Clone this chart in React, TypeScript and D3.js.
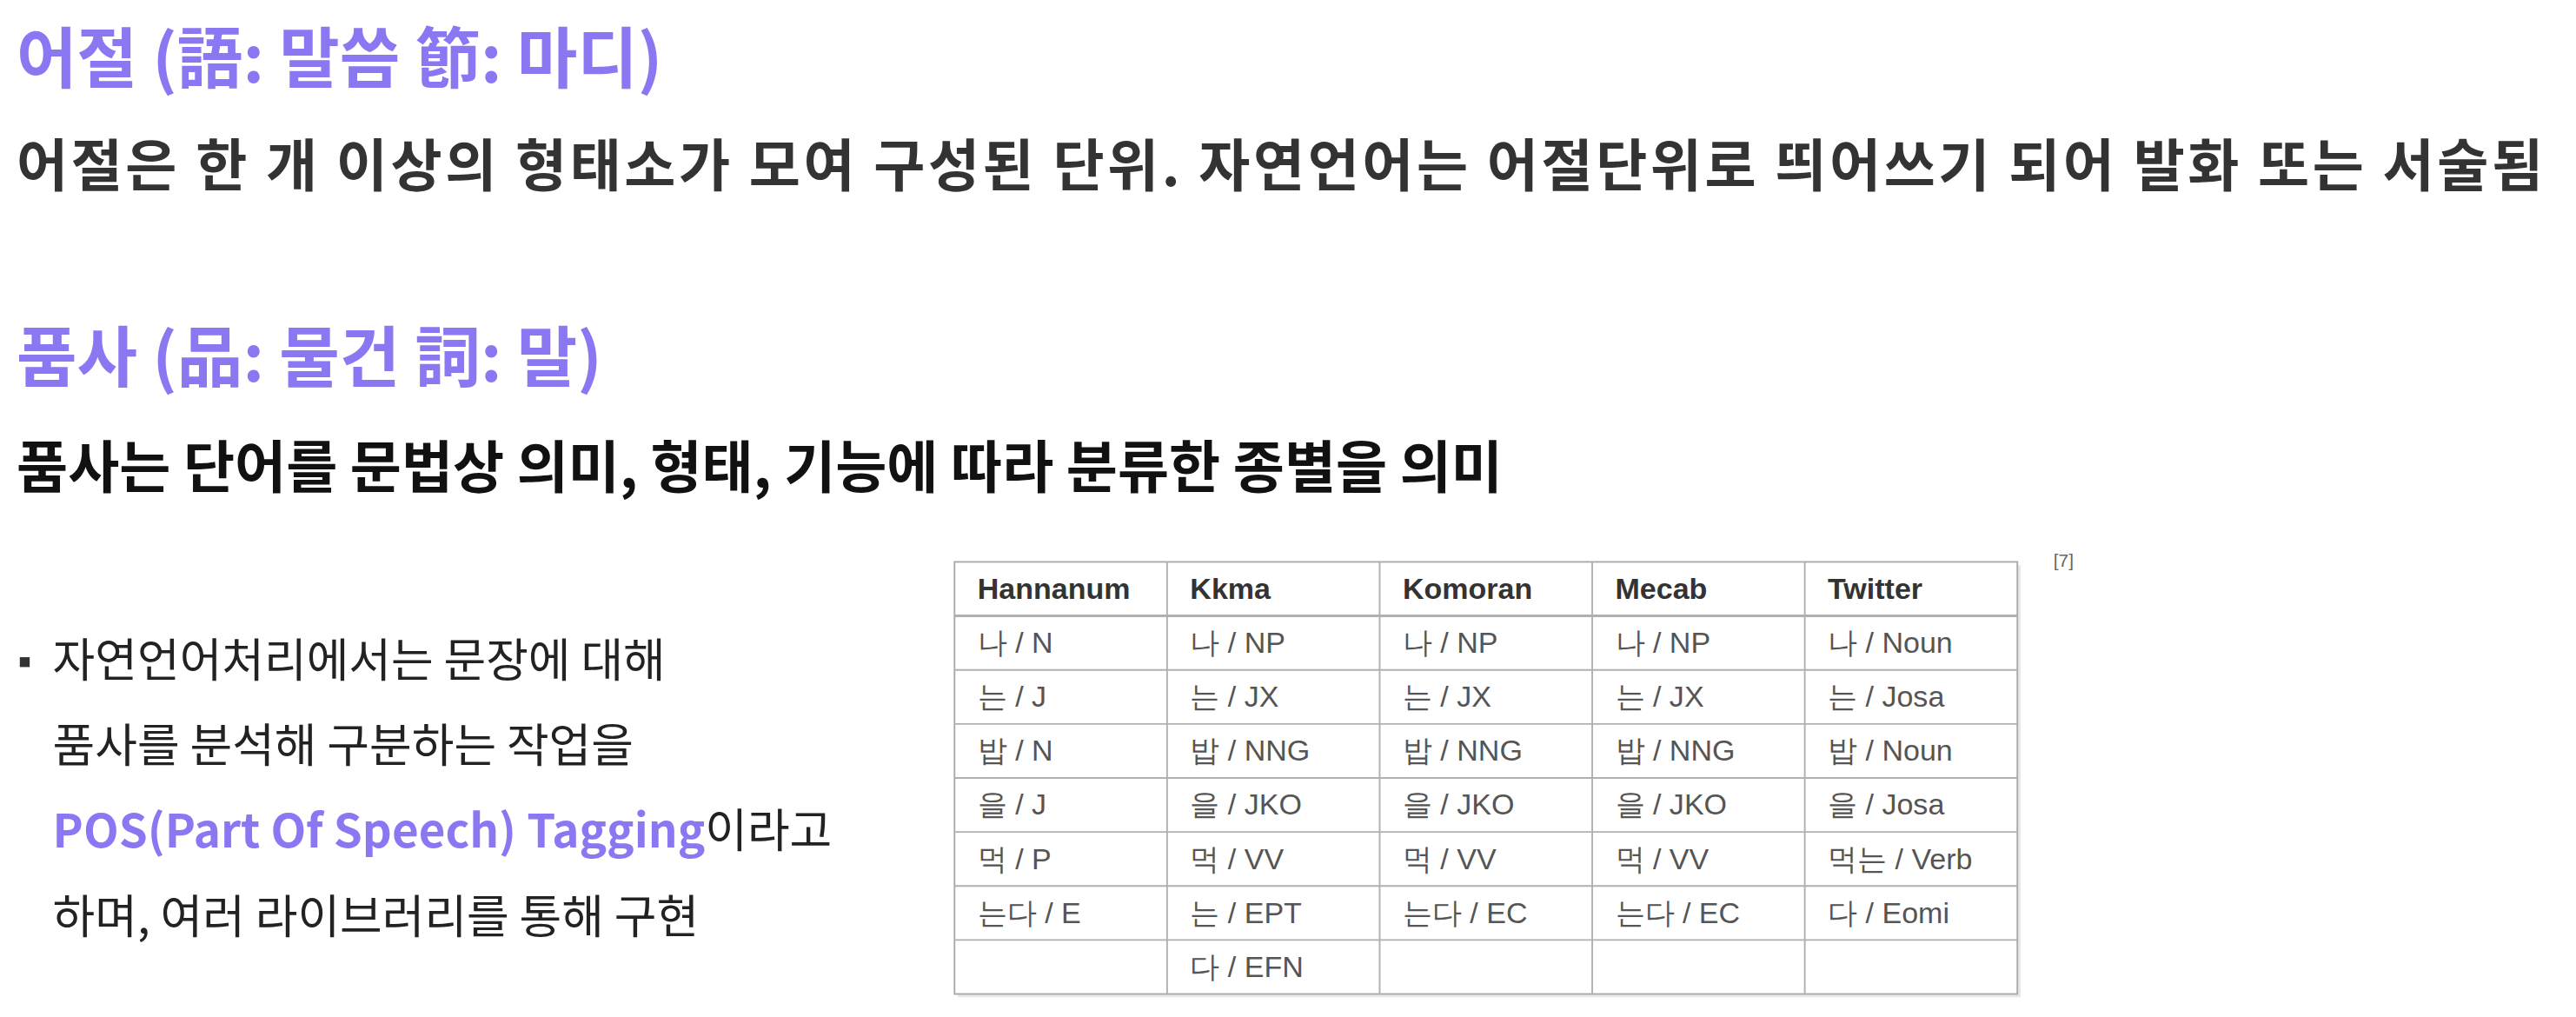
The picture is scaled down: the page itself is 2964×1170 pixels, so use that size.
import { useEffect, useRef } from "react";
import * as d3 from "d3";

const taggers = ["Hannanum", "Kkma", "Komoran", "Mecab", "Twitter"];
const hannanum = ["나 / N", "는 / J", "밥 / N", "을 / J", "먹 / P", "는다 / E", ""];
const kkma = ["나 / NP", "는 / JX", "밥 / NNG", "을 / JKO", "먹 / VV", "는 / EPT", "다 / EFN"];
const komoran = ["나 / NP", "는 / JX", "밥 / NNG", "을 / JKO", "먹 / VV", "는다 / EC", ""];
const mecab = ["나 / NP", "는 / JX", "밥 / NNG", "을 / JKO", "먹 / VV", "는다 / EC", ""];
const twitter = ["나 / Noun", "는 / Josa", "밥 / Noun", "을 / Josa", "먹는 / Verb", "다 / Eomi", ""];
const columns = [hannanum, kkma, komoran, mecab, twitter];

const purple = "#8a78f2";
const kr = "'Noto Sans CJK KR', 'Noto Sans', sans-serif";

export default function App() {
  const svgRef = useRef<SVGSVGElement | null>(null);

  useEffect(() => {
    document.body.style.margin = "0";
    if (!svgRef.current) return;
    const svg = d3.select(svgRef.current);
    svg.selectAll("*").remove();

    const heading = (y: number, t: string, size: number, fill: string, weight = "700") =>
      svg.append("text").attr("x", 10).attr("y", y).attr("font-family", kr)
        .attr("font-size", size).attr("font-weight", weight).attr("fill", fill).text(t);

    heading(50, "어절 (語: 말씀 節: 마디)", 40, purple);
    heading(113, "어절은 한 개 이상의 형태소가 모여 구성된 단위. 자연언어는 어절단위로 띄어쓰기 되어 발화 또는 서술됨", 34, "#333")
      .attr("textLength", 1538);
    heading(232, "품사 (品: 물건 詞: 말)", 40, purple);
    heading(297, "품사는 단어를 문법상 의미, 형태, 기능에 따라 분류한 종별을 의미", 34, "#111");

    // bullet text
    svg.append("rect").attr("x", 12).attr("y", 400).attr("width", 6).attr("height", 6).attr("fill", "#333");
    const lines = [
      "자연언어처리에서는 문장에 대해",
      "품사를 분석해 구분하는 작업을",
      "",
      "하며, 여러 라이브러리를 통해 구현",
    ];
    const ly = d3.scaleLinear().domain([0, 3]).range([412, 568]);
    lines.forEach((l, i) => {
      const t = svg.append("text").attr("x", 32).attr("y", ly(i)).attr("font-family", kr)
        .attr("font-size", 28).attr("fill", "#222");
      if (i === 2) {
        t.append("tspan").attr("fill", purple).attr("font-weight", "600").text("POS(Part Of Speech) Tagging");
        t.append("tspan").text("이라고");
      } else t.text(l);
    });

    // table
    const x = d3.scaleBand<number>().domain(d3.range(5)).range([581, 1228]);
    const y = d3.scaleBand<number>().domain(d3.range(8)).range([342, 605]);
    const g = svg.append("g");
    g.append("rect").attr("x", 583).attr("y", 344).attr("width", 647).attr("height", 263).attr("fill", "#e8e8e8");
    g.append("rect").attr("x", 581).attr("y", 342).attr("width", 647).attr("height", 263)
      .attr("fill", "#fff").attr("stroke", "#aaa").attr("stroke-width", 1);
    d3.range(1, 8).forEach((r) =>
      g.append("line").attr("x1", 581).attr("x2", 1228).attr("y1", y(r)!).attr("y2", y(r)!)
        .attr("stroke", "#b0b0b0").attr("stroke-width", r === 1 ? 1.6 : 1));
    d3.range(1, 5).forEach((c) =>
      g.append("line").attr("x1", x(c)!).attr("x2", x(c)!).attr("y1", 342).attr("y2", 605)
        .attr("stroke", "#b0b0b0"));
    const font = "'Liberation Sans', Arial, sans-serif";
    taggers.forEach((name, c) => {
      g.append("text").attr("x", x(c)! + 14).attr("y", y(0)! + y.bandwidth() / 2 + 6)
        .attr("font-family", font).attr("font-size", 18).attr("font-weight", "700")
        .attr("fill", "#333").text(name);
      columns[c].forEach((v, r) => {
        if (!v) return;
        g.append("text").attr("x", x(c)! + 14).attr("y", y(r + 1)! + y.bandwidth() / 2 + 6)
          .attr("font-family", font).attr("font-size", 18).attr("fill", "#555").text(v);
      });
    });
    svg.append("text").attr("x", 1250).attr("y", 345).attr("font-family", font)
      .attr("font-size", 11).attr("fill", "#666").text("[7]");
  }, []);

  return (
    <svg ref={svgRef} width={2964} height={1170} viewBox="0 0 1568 619"
      style={{ display: "block", background: "#fff" }} />
  );
}
